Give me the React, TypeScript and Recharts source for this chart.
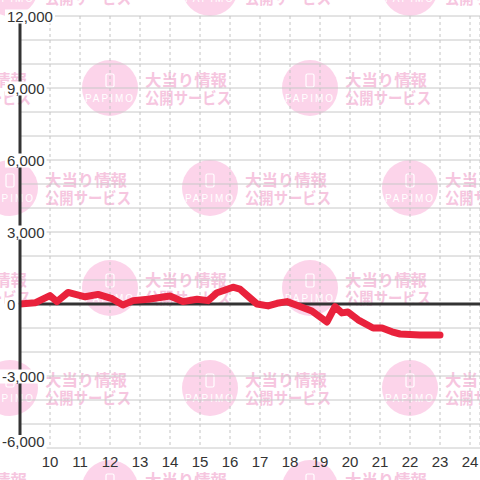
import React from 'react'
import {
  LineChart,
  Line,
  XAxis,
  YAxis,
  CartesianGrid,
  ReferenceLine,
} from 'recharts'

// hour of day -> running balance
const hours = [
  9, 9.5, 10, 10.23, 10.6, 11.17, 11.6, 12.07, 12.43, 12.77, 13.27, 14.0,
  14.43, 14.9, 15.27, 15.57, 16.1, 16.33, 16.67, 16.9, 17.27, 17.57, 17.9,
  18.27, 18.73, 19.23, 19.5, 19.73, 19.93, 20.27, 20.77, 21.07, 21.4, 21.67,
  22.33, 23,
]
const balance = [
  0, 50, 350, 100, 480, 300, 400, 220, -40, 140, 200, 330,
  100, 200, 140, 470, 700, 620, 250, 0, -80, 30, 100,
  -70, -290, -750, -110, -370, -330, -660, -1000, -1000, -1160, -1250,
  -1290, -1290,
]

const xTicks = [10, 11, 12, 13, 14, 15, 16, 17, 18, 19, 20, 21, 22, 23, 24]
const yTicks = [
  -6000, -5000, -4000, -3000, -2000, -1000, 0, 1000, 2000, 3000, 4000, 5000,
  6000, 7000, 8000, 9000, 10000, 11000, 12000,
]

const data = hours.map((h, i) => ({ h, v: balance[i] }))

const BG = '#ffffff'
const TEXT = '#333333'
const FONT = '"Liberation Sans", Arial, sans-serif'

function textWidth(s: string) {
  let w = 0
  for (const c of s) w += c === ',' ? 4.2 : c === '-' ? 5 : 8.35
  return w
}

function YTick(props: any) {
  const { y, payload } = props
  const v = payload.value as number
  if (v % 3000 !== 0) return null
  const label = v.toLocaleString('en-US')
  const x0 = v < 0 ? 2 : 7
  const base = Math.min(y + 5.5, 447)
  const w = textWidth(label)
  return (
    <g>
      <rect x={x0 - 2} y={base - 12} width={w + 4} height={14} fill={BG} />
      <text x={x0} y={base} fontSize={15} fill={TEXT} fontFamily={FONT}>
        {label}
      </text>
    </g>
  )
}

function XTick(props: any) {
  const { x, payload } = props
  return (
    <text x={x} y={467} textAnchor="middle" fontSize={15} fill={TEXT} fontFamily={FONT}>
      {payload.value}
    </text>
  )
}

function Watermark() {
  const marks: { cx: number; cy: number }[] = []
  for (let r = 0; r < 6; r++) {
    const cy = -12 + r * 100
    const off = r % 2 === 0 ? 10 : 110
    for (let cx = off - 200; cx < 520; cx += 200) marks.push({ cx, cy })
  }
  return (
    <svg width={480} height={480} style={{ position: 'absolute', left: 0, top: 0 }}>
      <rect width={480} height={480} fill={BG} />
      {marks.map((m, i) => (
        <g key={i}>
          <circle cx={m.cx} cy={m.cy} r={28} fill="#fcd4ea" />
          <rect
            x={m.cx - 4}
            y={m.cy - 14}
            width={8}
            height={13}
            rx={1.5}
            fill="none"
            stroke="#ffffff"
            strokeWidth={1.2}
          />
          <text
            x={m.cx}
            y={m.cy + 14}
            textAnchor="middle"
            fontSize={10}
            letterSpacing={2}
            fill="#ffffff"
            fontFamily={FONT}
          >
            PAPIMO
          </text>
          <text
            x={m.cx + 35}
            y={m.cy - 2}
            fontSize={16}
            fontWeight="bold"
            fill="#f6c6df"
            fontFamily='"Noto Sans CJK JP", sans-serif'
            textLength={82}
            lengthAdjust="spacingAndGlyphs"
          >
            大当り情報
          </text>
          <text
            x={m.cx + 35}
            y={m.cy + 16}
            fontSize={16}
            fontWeight="bold"
            fill="#f6c6df"
            fontFamily='"Noto Sans CJK JP", sans-serif'
            textLength={86}
            lengthAdjust="spacingAndGlyphs"
          >
            公開サービス
          </text>
        </g>
      ))}
    </svg>
  )
}

export default function App() {
  return (
    <div style={{ position: 'fixed', left: 0, top: 0, width: 480, height: 480, overflow: 'hidden' }}>
      <Watermark />
      <div style={{ position: 'absolute', left: 0, top: 0 }}>
        <LineChart width={480} height={480} data={data} margin={{ top: 16, right: 0, left: 0, bottom: 0 }}>
          <CartesianGrid vertical={false} stroke="#c8c8c8" />
          <CartesianGrid horizontal={false} stroke="#c4c4c4" strokeDasharray="3 3" />
          <XAxis
            dataKey="h"
            type="number"
            domain={[9, 9 + 460 / 30]}
            ticks={xTicks}
            interval={0}
            allowDataOverflow
            height={32}
            axisLine={false}
            tickLine={false}
            tick={<XTick />}
          />
          <YAxis
            type="number"
            domain={[-6000, 12000]}
            ticks={yTicks}
            interval={0}
            width={20}
            tickLine={false}
            axisLine={{ stroke: TEXT, strokeWidth: 3 }}
            tick={<YTick />}
          />
          <ReferenceLine y={0} stroke={TEXT} strokeWidth={3} />
          <Line
            dataKey="v"
            type="linear"
            stroke="#e9223c"
            strokeWidth={7}
            strokeLinejoin="round"
            strokeLinecap="round"
            dot={false}
            isAnimationActive={false}
          />
        </LineChart>
      </div>
    </div>
  )
}
